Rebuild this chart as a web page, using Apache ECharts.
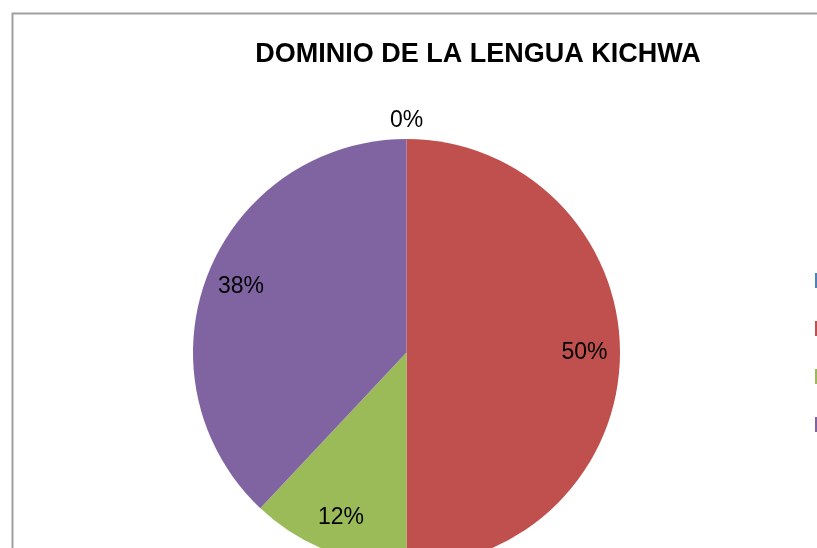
<!DOCTYPE html>
<html>
<head>
<meta charset="utf-8">
<title>Dominio de la lengua Kichwa</title>
<script src="https://cdn.jsdelivr.net/npm/echarts@6/dist/echarts.min.js"></script>
<style>
    html, body { margin: 0; padding: 0; background: #fff; }
    #chartContainer { width: 817px; height: 548px; }
</style>
</head>
<body>
<div id="chartContainer"></div>
<script>
// datos del gráfico
var chartTitle = "DOMINIO DE LA LENGUA KICHWA";
var categorias = ["Nada", "Poco", "Bastante", "Mucho"];
var valores = [0, 50, 12, 38];
var colores = ["#4F81BD", "#C0504D", "#9BBB59", "#8064A2"];

var fontName = "Liberation Sans";

var pieData = [];
for (var i = 0; i < categorias.length; i++) {
    pieData.push({ name: categorias[i], value: valores[i] });
}

// etiqueta de porcentaje redondeada
var pctLabel = function(p) {
    return Math.round(p.percent) + "%";
};

var myChart = echarts.init(document.getElementById("chartContainer"));

var option = {
    animation: false,
    color: colores,
    title: {
        text: chartTitle,
        left: 473,
        top: 36,
        textAlign: "center",
        textStyle: {
            fontFamily: fontName,
            fontWeight: "bold",
            fontSize: 27,
            color: "#000"
        }
    },
    legend: {
        orient: "vertical",
        left: 815,
        top: 273,
        padding: 0,
        icon: "rect",
        itemWidth: 15,
        itemHeight: 15,
        itemGap: 33,
        data: categorias,
        textStyle: { fontFamily: fontName, fontSize: 14, lineHeight: 15, color: "#000" }
    },
    graphic: [{
        type: "rect",
        left: 10,
        top: 11,
        shape: { width: 900, height: 700 },
        style: { fill: "none", stroke: "#a0a0a0", lineWidth: 2 },
        silent: true
    }],
    series: [{
        // sectores
        name: "dominio",
        type: "pie",
        center: [406.5, 352.5],
        radius: [0, 213.5],
        startAngle: 90,
        silent: true,
        label: { show: false },
        labelLine: { show: false },
        emphasis: { disabled: true },
        data: pieData
    }, {
        // etiquetas dentro de los sectores
        name: "etiquetas",
        type: "pie",
        center: [406.5, 352.5],
        radius: [140, 210],
        startAngle: 90,
        silent: true,
        itemStyle: { color: "rgba(0,0,0,0)" },
        emphasis: { disabled: true },
        label: {
            show: true,
            position: "inside",
            fontFamily: fontName,
            fontSize: 23,
            color: "#000",
            formatter: function(p) { return p.value > 0 ? pctLabel(p) : ""; }
        },
        labelLine: { show: false },
        data: pieData
    }, {
        // etiqueta del valor cero, fuera del círculo
        name: "etiquetaCero",
        type: "pie",
        center: [406.5, 352.5],
        radius: [221, 237],
        startAngle: 90,
        silent: true,
        itemStyle: { color: "rgba(0,0,0,0)" },
        emphasis: { disabled: true },
        label: {
            show: true,
            position: "inside",
            fontFamily: fontName,
            fontSize: 23,
            color: "#000",
            formatter: function(p) { return p.value > 0 ? "" : pctLabel(p); }
        },
        labelLine: { show: false },
        data: pieData
    }]
};

myChart.setOption(option);
</script>
</body>
</html>
